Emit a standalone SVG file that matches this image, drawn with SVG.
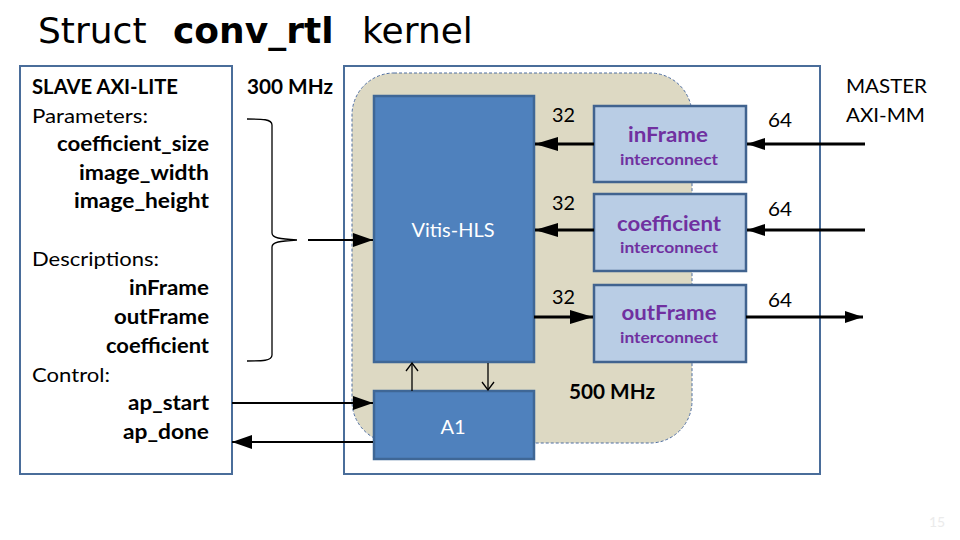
<svg xmlns="http://www.w3.org/2000/svg" width="960" height="540" viewBox="0 0 960 540">
<style>
.title{font-family:"DejaVu Sans",sans-serif;font-size:36px;fill:#000}
.t{font-family:Lato,"Liberation Sans",sans-serif;font-size:20px;fill:#000}
.b{font-weight:bold}
.frame{fill:#fff;stroke:#4A6D9A;stroke-width:2}
.blk{fill:#4F81BD;stroke:#3F6796;stroke-width:2.5}
.ic{fill:#B9CDE5;stroke:#41638F;stroke-width:2.5}
.wt{font-family:Lato,"Liberation Sans",sans-serif;font-size:20px;fill:#fff;text-anchor:middle}
.pt{font-family:Lato,"Liberation Sans",sans-serif;font-weight:bold;fill:#7030A0;text-anchor:middle}
.thick{stroke:#000;stroke-width:3;fill:none}
.thin{stroke:#000;stroke-width:2;fill:none}
.hair{stroke:#000;stroke-width:1.3;fill:none}
</style>
<defs>
<marker id="ah" viewBox="0 0 20 14" refX="20" refY="7" markerWidth="20" markerHeight="14" markerUnits="userSpaceOnUse" orient="auto">
<path d="M0,0 L20,7 L0,14 Z" fill="#000"/>
</marker>
<marker id="ah2" viewBox="0 0 23 14" refX="23" refY="7" markerWidth="23" markerHeight="14" markerUnits="userSpaceOnUse" orient="auto">
<path d="M0,0 L23,7 L0,14 Z" fill="#000"/>
</marker>
<marker id="ah3" viewBox="0 0 18 12" refX="18" refY="6" markerWidth="18" markerHeight="12" markerUnits="userSpaceOnUse" orient="auto">
<path d="M0,0 L18,6 L0,12 Z" fill="#000"/>
</marker>
<marker id="oa" viewBox="0 0 10 14" refX="9" refY="7" markerWidth="10" markerHeight="14" markerUnits="userSpaceOnUse" orient="auto">
<path d="M1,1 L9,7 L1,13" fill="none" stroke="#000" stroke-width="1.3"/>
</marker>
</defs>

<g id="title">
<text class="title" x="38" y="43">Struct</text>
<text class="title b" x="173" y="43">conv_rtl</text>
<text class="title" x="362" y="43">kernel</text>
</g>

<g id="slave">
<rect class="frame" x="20" y="66" width="212" height="408"/>
<text class="t b" x="32" y="94" textLength="146" lengthAdjust="spacingAndGlyphs">SLAVE AXI-LITE</text>
<text class="t" x="32" y="123" textLength="116" lengthAdjust="spacingAndGlyphs">Parameters:</text>
<g text-anchor="end">
<text class="t b" x="209" y="151" textLength="152" lengthAdjust="spacingAndGlyphs">coefficient_size</text>
<text class="t b" x="209" y="180" textLength="130" lengthAdjust="spacingAndGlyphs">image_width</text>
<text class="t b" x="209" y="208" textLength="135" lengthAdjust="spacingAndGlyphs">image_height</text>
<text class="t b" x="209" y="295" textLength="80" lengthAdjust="spacingAndGlyphs">inFrame</text>
<text class="t b" x="209" y="324" textLength="95" lengthAdjust="spacingAndGlyphs">outFrame</text>
<text class="t b" x="209" y="353" textLength="103" lengthAdjust="spacingAndGlyphs">coefficient</text>
<text class="t b" x="209" y="410" textLength="81" lengthAdjust="spacingAndGlyphs">ap_start</text>
<text class="t b" x="209" y="439" textLength="86" lengthAdjust="spacingAndGlyphs">ap_done</text>
</g>
<text class="t" x="32" y="266" textLength="127" lengthAdjust="spacingAndGlyphs">Descriptions:</text>
<text class="t" x="32" y="382" textLength="78" lengthAdjust="spacingAndGlyphs">Control:</text>
</g>

<text class="t b" x="247" y="94" textLength="86" lengthAdjust="spacingAndGlyphs">300 MHz</text>

<g id="kernel">
<rect class="frame" x="344" y="66" width="476" height="408"/>
</g>

<g id="clock500">
<rect x="352" y="73" width="340" height="370" rx="42" ry="42" fill="#DDD9C3" stroke="#4F6EA0" stroke-width="1" stroke-dasharray="3,2"/>
<text class="t b" x="569" y="399" textLength="86" lengthAdjust="spacingAndGlyphs">500 MHz</text>
</g>

<g id="vitis">
<rect class="blk" x="374" y="96" width="160" height="266"/>
<text class="wt" x="453" y="237" textLength="83" lengthAdjust="spacingAndGlyphs">Vitis-HLS</text>
</g>

<g id="a1">
<rect class="blk" x="374" y="391" width="160" height="68"/>
<text class="wt" x="453" y="434">A1</text>
</g>

<g id="inFrame">
<rect class="ic" x="594" y="106" width="152" height="76"/>
<text class="pt" x="668" y="142" font-size="21" textLength="80" lengthAdjust="spacingAndGlyphs">inFrame</text>
<text class="pt" x="669" y="165" font-size="16" textLength="98" lengthAdjust="spacingAndGlyphs">interconnect</text>
</g>

<g id="coefficient">
<rect class="ic" x="594" y="194" width="152" height="77"/>
<text class="pt" x="669" y="231" font-size="21" textLength="104" lengthAdjust="spacingAndGlyphs">coefficient</text>
<text class="pt" x="669" y="253" font-size="16" textLength="98" lengthAdjust="spacingAndGlyphs">interconnect</text>
</g>

<g id="outFrame">
<rect class="ic" x="594" y="285" width="152" height="77"/>
<text class="pt" x="669" y="320" font-size="21" textLength="95" lengthAdjust="spacingAndGlyphs">outFrame</text>
<text class="pt" x="669" y="343" font-size="16" textLength="98" lengthAdjust="spacingAndGlyphs">interconnect</text>
</g>

<g id="master">
<text class="t" x="846" y="93" textLength="81" lengthAdjust="spacingAndGlyphs">MASTER</text>
<text class="t" x="846" y="122" textLength="79" lengthAdjust="spacingAndGlyphs">AXI-MM</text>
</g>

<g id="connectors">
<path class="hair" d="M247,119 C262,119 272,119 272,125 L272,233 C272,238 280,239 297,240 C280,241 272,242 272,247 L272,355 C272,361 262,361 247,361"/>
<line class="thin" x1="308" y1="240" x2="373" y2="240" marker-end="url(#ah)"/>
<line class="thin" x1="232" y1="403" x2="373" y2="403" marker-end="url(#ah)"/>
<line class="thin" x1="373" y1="442" x2="232" y2="442" marker-end="url(#ah)"/>
<line class="hair" x1="412" y1="391" x2="412" y2="363" marker-end="url(#oa)"/>
<line class="hair" x1="488" y1="363" x2="488" y2="390" marker-end="url(#oa)"/>
<line class="thick" x1="594" y1="144" x2="535" y2="144" marker-end="url(#ah2)"/>
<line class="thick" x1="594" y1="230" x2="535" y2="230" marker-end="url(#ah2)"/>
<line class="thick" x1="534" y1="317" x2="593" y2="317" marker-end="url(#ah2)"/>
<line class="thick" x1="865" y1="144" x2="747" y2="144" marker-end="url(#ah3)"/>
<line class="thick" x1="865" y1="230" x2="747" y2="230" marker-end="url(#ah3)"/>
<line class="thick" x1="746" y1="317" x2="863" y2="317" marker-end="url(#ah3)"/>
<text class="t" x="552" y="122" textLength="23" lengthAdjust="spacingAndGlyphs">32</text>
<text class="t" x="552" y="210" textLength="23" lengthAdjust="spacingAndGlyphs">32</text>
<text class="t" x="552" y="304" textLength="23" lengthAdjust="spacingAndGlyphs">32</text>
<text class="t" x="768" y="127" textLength="24" lengthAdjust="spacingAndGlyphs">64</text>
<text class="t" x="768" y="216" textLength="24" lengthAdjust="spacingAndGlyphs">64</text>
<text class="t" x="768" y="307" textLength="24" lengthAdjust="spacingAndGlyphs">64</text>
</g>

<text x="937" y="527" font-family="Lato,'Liberation Sans',sans-serif" font-size="14" fill="#EBEBEB" text-anchor="middle">15</text>
</svg>
